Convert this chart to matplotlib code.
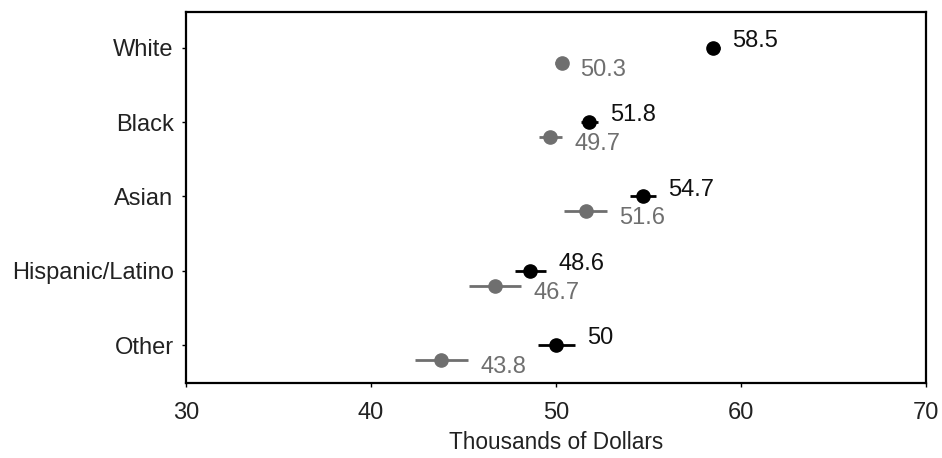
import matplotlib
matplotlib.use("Agg")
import matplotlib.pyplot as plt
import numpy as np

plt.rcParams['font.family'] = ['Liberation Sans', 'DejaVu Sans']

categories = ["White", "Black", "Asian", "Hispanic/Latino", "Other"]
black_vals = [58.5, 51.8, 54.7, 48.6, 50.0]
black_err = [0.35, 0.45, 0.68, 0.84, 1.0]
black_labels = ["58.5", "51.8", "54.7", "48.6", "50"]
grey_vals = [50.3, 49.7, 51.6, 46.7, 43.8]
grey_err = [0.35, 0.6, 1.15, 1.4, 1.45]
grey_labels = ["50.3", "49.7", "51.6", "46.7", "43.8"]
xticks = [30, 40, 50, 60, 70]

fig = plt.figure(figsize=(9.42, 4.58), dpi=100)
ax = fig.add_axes([0.1975, 0.164, 0.7855, 0.81])

y = np.arange(len(categories))
grey = "#6f6f6f"
ax.errorbar(grey_vals, y + 0.2, xerr=grey_err, fmt='o', color=grey, ms=9.5,
            elinewidth=2, capsize=0, zorder=3)
ax.errorbar(black_vals, y, xerr=black_err, fmt='o', color='black', ms=9.5,
            elinewidth=2, capsize=0, zorder=4)

fs = 17
for xi, ei, yi, t in zip(black_vals, black_err, y, black_labels):
    ax.annotate(t, (xi + ei, yi), xytext=(9, 5), textcoords='offset points',
                fontsize=fs, color='#111111', va='center', ha='left')
for xi, ei, yi, t in zip(grey_vals, grey_err, y + 0.2, grey_labels):
    ax.annotate(t, (xi + ei, yi), xytext=(9, -5), textcoords='offset points',
                fontsize=fs, color=grey, va='center', ha='left')

ax.set_xlim(30, 70)
ax.set_ylim(4.51, -0.485)
ax.set_xticks(xticks)
ax.set_xticklabels([str(v) for v in xticks])
ax.set_yticks(y)
ax.set_yticklabels(categories)
ax.tick_params(axis='both', labelsize=fs, length=3, width=1, direction='out',
               labelcolor='#222222')
ax.tick_params(axis='y', pad=6)
ax.tick_params(axis='x', pad=11)
ax.set_xlabel("Thousands of Dollars", fontsize=16.3, labelpad=5, color='#222222')
for s in ax.spines.values():
    s.set_linewidth(1.6)

fig.savefig("out.png", dpi=100)
